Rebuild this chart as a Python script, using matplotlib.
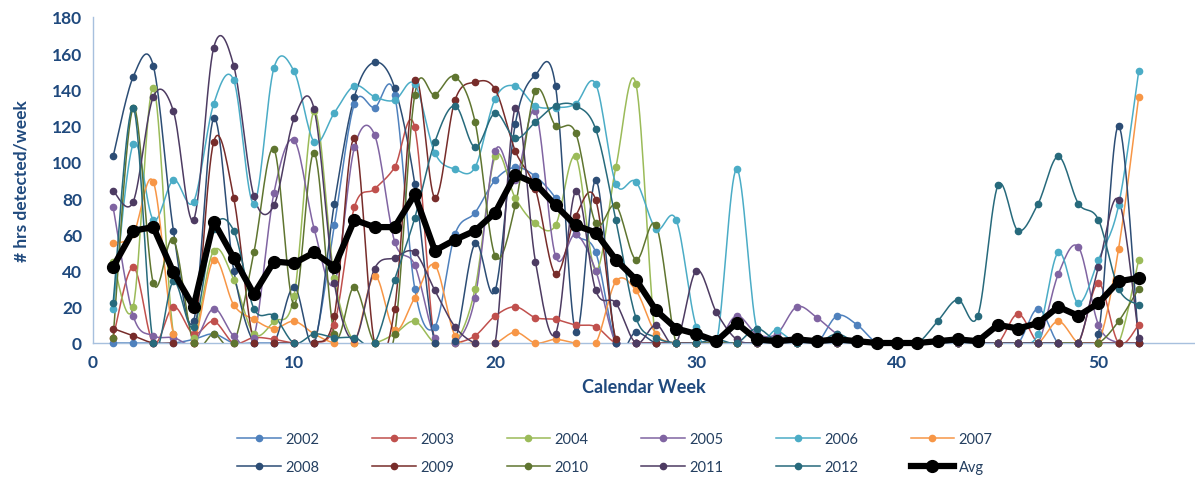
import numpy as np
import matplotlib.pyplot as plt
from matplotlib.lines import Line2D

plt.rcParams['font.family'] = ['Lato', 'DejaVu Sans']

weeks = np.arange(1, 53)

# hours detected per week (estimates)
y2002 = [0, 0, 0, 0, 2, 5, 0, 0, 0, 0, 0, 65, 132, 130, 137, 30, 9, 60, 72, 90, 97, 92, 80, 60, 50, 0,
         0, 0, 0, 0, 0, 0, 0, 0, 0, 0, 15, 10, 0, 0, 0, 0, 0, 0, 0, 0, 19, 0, 0, 0, 0, 0]
y2003 = [3, 42, 0, 20, 5, 12, 0, 3, 2, 0, 0, 10, 75, 85, 97, 119, 0, 0, 4, 15, 20, 14, 13, 10, 9, 0,
         0, 0, 0, 0, 0, 0, 0, 0, 0, 0, 0, 0, 0, 0, 0, 0, 0, 0, 0, 16, 0, 0, 0, 33, 0, 10]
y2004 = [45, 20, 141, 5, 3, 51, 35, 5, 12, 26, 128, 36, 0, 0, 5, 12, 0, 0, 30, 103, 80, 66, 65, 103, 40, 97,
         143, 0, 0, 0, 0, 0, 0, 0, 0, 0, 0, 0, 0, 0, 0, 0, 0, 0, 0, 0, 0, 0, 0, 0, 0, 46]
y2005 = [75, 15, 4, 3, 0, 19, 4, 3, 83, 112, 63, 33, 108, 115, 56, 43, 3, 0, 25, 106, 90, 128, 48, 60, 40, 0,
         0, 0, 0, 0, 0, 15, 5, 5, 20, 14, 5, 0, 0, 0, 0, 0, 0, 0, 0, 0, 0, 38, 53, 10, 0, 0]
y2006 = [19, 110, 68, 90, 78, 132, 145, 77, 152, 150, 111, 127, 142, 136, 134, 143, 105, 96, 97, 135, 142, 131, 130, 132, 143, 88,
         89, 63, 68, 9, 0, 96, 8, 7, 0, 0, 0, 0, 0, 0, 0, 0, 0, 0, 0, 0, 5, 50, 22, 46, 76, 150]
y2007 = [55, 60, 89, 5, 0, 46, 21, 13, 8, 12, 5, 0, 0, 37, 7, 25, 43, 4, 0, 0, 6, 0, 2, 0, 0, 34,
         29, 5, 0, 0, 0, 0, 0, 0, 0, 0, 0, 0, 0, 0, 0, 0, 0, 0, 0, 0, 0, 12, 0, 0, 52, 136]
y2008 = [103, 147, 153, 62, 12, 124, 40, 0, 0, 31, 0, 77, 136, 155, 141, 88, 0, 1, 55, 29, 121, 148, 142, 6, 90, 0,
         6, 0, 0, 0, 0, 0, 0, 0, 0, 0, 0, 0, 0, 0, 0, 0, 0, 0, 0, 0, 0, 0, 0, 5, 120, 0]
y2009 = [8, 4, 0, 0, 0, 111, 80, 0, 0, 0, 0, 15, 113, 0, 19, 145, 80, 134, 144, 140, 106, 85, 38, 70, 79, 2,
         0, 0, 0, 0, 0, 0, 0, 0, 0, 0, 0, 0, 0, 0, 0, 0, 0, 0, 0, 0, 0, 0, 0, 0, 0, 0]
y2010 = [3, 130, 33, 57, 0, 5, 0, 50, 107, 21, 105, 5, 31, 0, 5, 137, 137, 147, 122, 48, 76, 139, 120, 116, 66, 76,
         46, 65, 0, 0, 0, 0, 0, 0, 0, 0, 0, 0, 0, 0, 0, 0, 0, 0, 0, 0, 0, 0, 0, 0, 12, 30]
y2011 = [84, 78, 136, 128, 68, 163, 153, 81, 76, 124, 129, 33, 2, 41, 47, 50, 29, 9, 0, 0, 130, 45, 5, 84, 29, 22,
         0, 10, 0, 40, 17, 2, 0, 0, 0, 0, 0, 0, 0, 0, 0, 0, 0, 0, 0, 0, 0, 0, 0, 42, 79, 3]
y2012 = [22, 130, 0, 34, 9, 63, 62, 19, 15, 0, 5, 3, 3, 0, 35, 69, 111, 131, 108, 127, 113, 122, 131, 131, 118, 68,
         14, 3, 0, 0, 2, 0, 8, 1, 0, 0, 5, 0, 0, 0, 0, 12, 24, 15, 87, 62, 77, 103, 77, 68, 30, 21]
avg = [42, 62, 64, 39, 20, 67, 47, 27, 45, 44, 50, 42, 68, 64, 64, 82, 51, 57, 62, 72, 93, 88, 76, 65, 61, 46,
       35, 18, 8, 5, 1, 11, 2, 1, 2, 1, 2, 1, 0, 0, 0, 1, 2, 1, 10, 8, 11, 20, 15, 22, 34, 36]

years = ['2002', '2003', '2004', '2005', '2006', '2007', '2008', '2009', '2010', '2011', '2012']
series = [y2002, y2003, y2004, y2005, y2006, y2007, y2008, y2009, y2010, y2011, y2012]
colors = ['#4F81BD', '#C0504D', '#9BBB59', '#8064A2', '#4BACC6', '#F79646',
          '#2C4D75', '#772C2A', '#5F7530', '#4D3B62', '#276A7C']


def smooth(x, y, n=16):
    # catmull-rom curve through the points, like excel's smoothed line
    pts = np.column_stack([x, y]).astype(float)
    p = np.vstack([pts[0], pts, pts[-1]])
    t = np.linspace(0, 1, n, endpoint=False)[:, None]
    out = []
    for i in range(len(pts) - 1):
        p0, p1, p2, p3 = p[i], p[i + 1], p[i + 2], p[i + 3]
        seg = 0.5 * (2 * p1 + (p2 - p0) * t + (2 * p0 - 5 * p1 + 4 * p2 - p3) * t ** 2
                     + (3 * p1 - p0 - 3 * p2 + p3) * t ** 3)
        out.append(seg)
    out.append(pts[-1:])
    return np.vstack(out)


navy = '#1F497D'
fig = plt.figure(figsize=(11.95, 4.85), dpi=100)
ax = fig.add_axes([93 / 1195, 1 - 344 / 485, 1 - 93 / 1195, (344 - 18) / 485])

handles = []
for name, vals, c in zip(years, series, colors):
    cv = smooth(weeks, vals)
    ax.plot(cv[:, 0], cv[:, 1], color=c, lw=1.1, zorder=2)
    ax.plot(weeks, vals, 'o', color=c, ms=4.5, clip_on=False, zorder=3)
    handles.append(Line2D([], [], color=c, lw=1.1, marker='o', ms=4.5, label=name))

ax.plot(weeks, avg, '-o', color='black', lw=4.5, ms=8.5, clip_on=False, zorder=5)
handles.append(Line2D([], [], color='black', lw=4.5, marker='o', ms=8.5, label='Avg'))

ax.set_xlim(0, 54.8)
ax.set_ylim(0, 180)
ax.set_xticks(np.arange(0, 51, 10))
ax.set_yticks(np.arange(0, 181, 20))
for s in ['top', 'right']:
    ax.spines[s].set_visible(False)
for s in ['left', 'bottom']:
    ax.spines[s].set_color('#A7C0DE')
    ax.spines[s].set_linewidth(1)
ax.tick_params(length=0, labelsize=12.5, labelcolor=navy, pad=8)
for lab in ax.get_xticklabels() + ax.get_yticklabels():
    lab.set_fontweight('bold')

ax.set_xlabel('Calendar Week', fontsize=13, fontweight='bold', color=navy, labelpad=6)
ax.set_ylabel('# hrs detected/week', fontsize=12.5, fontweight='bold', color=navy, labelpad=16)

# legend fills column by column, so interleave to get 2002..2007 on the first row
order = []
for k in range(6):
    order += [handles[k], handles[k + 6]]
fig.legend(handles=order, loc='upper center', bbox_to_anchor=(615 / 1195, 1 - 427 / 485),
           ncol=6, frameon=False, fontsize=10.5, handlelength=3.0, handletextpad=0.3,
           columnspacing=3.6, labelspacing=0.95, labelcolor='#243F60', borderaxespad=0)

fig.savefig('out.png', dpi=100)
